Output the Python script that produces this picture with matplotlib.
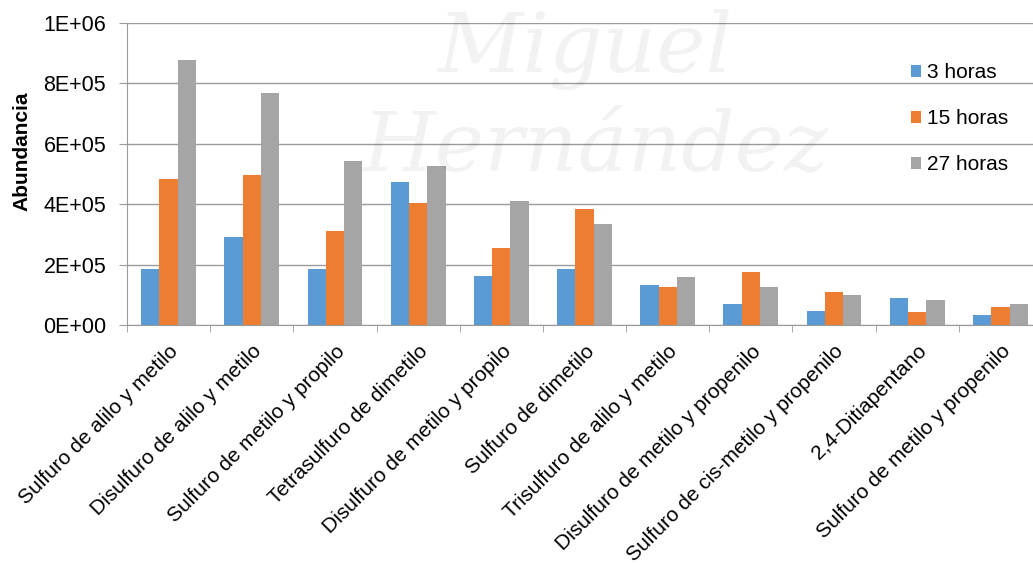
import matplotlib
matplotlib.use('Agg')
import matplotlib.pyplot as plt
import numpy as np

plt.rcParams['font.family'] = ['Liberation Sans', 'DejaVu Sans']

categories = [
    "Sulfuro de alilo y metilo",
    "Disulfuro de alilo y metilo",
    "Sulfuro de metilo y propilo",
    "Tetrasulfuro de dimetilo",
    "Disulfuro de metilo y propilo",
    "Sulfuro de dimetilo",
    "Trisulfuro de alilo y metilo",
    "Disulfuro de metilo y propenilo",
    "Sulfuro de cis-metilo y propenilo",
    "2,4-Ditiapentano",
    "Sulfuro de metilo y propenilo",
]
series_names = ["3 horas", "15 horas", "27 horas"]
horas_3 = [184e3, 292e3, 186e3, 473e3, 162e3, 184e3, 131e3, 71e3, 46e3, 88e3, 32e3]
horas_15 = [483e3, 496e3, 311e3, 405e3, 256e3, 383e3, 127e3, 176e3, 109e3, 42e3, 58e3]
horas_27 = [876e3, 767e3, 541e3, 527e3, 409e3, 333e3, 159e3, 127e3, 98e3, 83e3, 68e3]
colors = ["#5B9BD5", "#ED7D31", "#A5A5A5"]
yticks = [0, 2e5, 4e5, 6e5, 8e5, 1e6]
ytick_labels = ["0E+00", "2E+05", "4E+05", "6E+05", "8E+05", "1E+06"]

W, H = 1033, 565
fs = 15
fig = plt.figure(figsize=(W / 100, H / 100), dpi=100)
# plot area runs a little past the right edge, as in the reference
ax = fig.add_axes([127 / W, 1 - 325 / H, (1042 - 127) / W, (325 - 22.7) / H])

x = np.arange(len(categories))
width = 0.22
for i, (vals, name) in enumerate(zip([horas_3, horas_15, horas_27], series_names)):
    ax.bar(x + (i - 1) * width, vals, width, color=colors[i], label=name, zorder=3)

ax.set_xlim(-0.5, len(categories) - 0.5)
ax.set_ylim(0, 1e6)
ax.set_yticks(yticks)
ax.set_yticklabels(ytick_labels, fontsize=15.5)
ax.yaxis.grid(True, color='#9a9a9a', linewidth=1.0, zorder=0)
ax.tick_params(axis='y', length=6, color='#9a9a9a', pad=9)

ax.set_xticks(x)
ax.set_xticklabels(categories, rotation=45, ha='right', rotation_mode='anchor',
                   fontsize=fs)
ax.set_xticks(np.arange(len(categories) + 1) - 0.5, minor=True)
ax.tick_params(axis='x', which='major', length=0, pad=12)
ax.tick_params(axis='x', which='minor', length=5, color='#9a9a9a')

for s in ['top', 'right']:
    ax.spines[s].set_visible(False)
ax.spines['left'].set_color('#9a9a9a')
ax.spines['bottom'].set_color('#9a9a9a')
ax.spines['bottom'].set_zorder(4)

fig.text(22 / W, 1 - 151 / H, "Abundancia", rotation=90, fontsize=fs,
         fontweight='bold', ha='center', va='center')

# faint watermark
fig.text(585 / W, 1 - 50 / H, "Miguel", fontsize=60, family='DejaVu Serif',
         style='italic', color='#000000', alpha=0.05, ha='center', va='center')
fig.text(595 / W, 1 - 148 / H, "Hernández", fontsize=60, family='DejaVu Serif',
         style='italic', color='#000000', alpha=0.05, ha='center', va='center')

leg = fig.legend(loc='upper left', bbox_to_anchor=(911 / W, 1 - 63 / H),
                 frameon=False, fontsize=fs, handlelength=0.5, handleheight=0.5,
                 handletextpad=0.25, labelspacing=1.3, borderaxespad=0, borderpad=0)

fig.savefig('out.png', dpi=100)
